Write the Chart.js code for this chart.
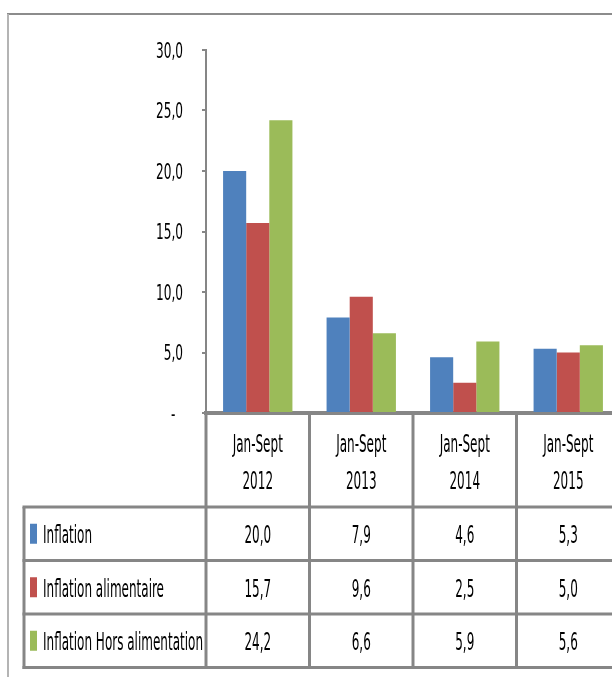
<!DOCTYPE html>
<html>
<head>
<meta charset="utf-8">
<script src="https://cdn.jsdelivr.net/npm/chart.js@4"></script>
<style>
  html, body { margin: 0; padding: 0; background: #fff; }
  #wrap { width: 612px; height: 677px; overflow: hidden; position: relative; }
  #chart { position: absolute; left: 0; top: 0; }
</style>
</head>
<body>
<div id="wrap"><canvas id="chart" width="640" height="677"></canvas></div>
<script>
const categories = [['Jan-Sept', '2012'], ['Jan-Sept', '2013'], ['Jan-Sept', '2014'], ['Jan-Sept', '2015']];
const seriesLabels = ['Inflation', 'Inflation alimentaire', 'Inflation Hors alimentation'];
const inflation = [20.0, 7.9, 4.6, 5.3];
const inflationAlimentaire = [15.7, 9.6, 2.5, 5.0];
const inflationHors = [24.2, 6.6, 5.9, 5.6];
const seriesColors = ['#4F81BD', '#C0504D', '#9BBB59'];
const yMax = 30;
const yStep = 5;

const FONT = '"DejaVu Sans Condensed", "DejaVu Sans", sans-serif';
const GRAY = '#868686';

// one decimal with a comma, like the excel source
function fmt(v) {
    return v.toFixed(1).replace('.', ',');
}

// the original text is very narrow: squeeze it horizontally so a sample string gets a given width
function squeezeFor(ctx, size, sample, targetW) {
    ctx.save();
    ctx.font = size + 'px ' + FONT;
    const w = ctx.measureText(sample).width;
    ctx.restore();
    return targetW / w;
}

function squeezed(ctx, text, x, y, size, align, sx) {
    ctx.save();
    ctx.font = size + 'px ' + FONT;
    ctx.textAlign = align;
    ctx.textBaseline = 'alphabetic';
    ctx.translate(x, y);
    ctx.scale(sx, 1);
    ctx.fillText(text, 0, 0);
    ctx.restore();
}

function line(ctx, x1, y1, x2, y2) {
    ctx.beginPath();
    ctx.moveTo(x1, y1);
    ctx.lineTo(x2, y2);
    ctx.stroke();
}

// frame, y tick labels and the data table under the plot
const tablePlugin = {
    id: 'dataTable',
    afterDraw(chart) {
        const ctx = chart.ctx;
        const area = chart.chartArea;
        const x = chart.scales.x;
        const y = chart.scales.y;
        const sets = chart.data.datasets;
        const n = chart.data.labels.length;
        const colW = (x.right - x.left) / n;
        const headTop = area.bottom;
        const rowTop = headTop + 94;
        const rowH = 53.5;
        const tableLeft = 24;
        const tableBottom = rowTop + rowH * sets.length;
        const size = 24;
        const sx = squeezeFor(ctx, size, 'Inflation Hors alimentation', 160);

        ctx.save();
        // outer frame
        ctx.lineWidth = 2;
        ctx.strokeStyle = '#8c8c8c';
        line(ctx, 7, 14, 640, 14);
        ctx.strokeStyle = '#b4b4b4';
        line(ctx, 8, 14, 8, 677);

        // y tick labels
        ctx.fillStyle = '#000';
        const tsize = 21;
        const tsx = squeezeFor(ctx, tsize, '30,0', 27);
        y.ticks.forEach(t => {
            const py = y.getPixelForValue(t.value);
            const txt = t.value === 0 ? '-\u2007' : fmt(t.value);
            squeezed(ctx, txt, y.right - 23, py + 7.5, tsize, 'right', tsx);
        });

        // table grid
        ctx.strokeStyle = GRAY;
        ctx.lineWidth = 3;
        for (let i = 1; i <= n; i++) {
            const px = x.left + i * colW;
            line(ctx, px, headTop, px, tableBottom);
        }
        line(ctx, x.left, headTop, x.left, tableBottom);
        line(ctx, tableLeft, rowTop, tableLeft, tableBottom + 1.5);
        for (let r = 0; r <= sets.length; r++) {
            const py = rowTop + r * rowH;
            line(ctx, tableLeft - 1.5, py, x.right, py);
        }

        // header cells
        chart.data.labels.forEach((lab, i) => {
            const cx = x.getPixelForValue(i);
            squeezed(ctx, lab[0], cx, headTop + 39, size, 'center', sx);
            squeezed(ctx, lab[1], cx, headTop + 76, size, 'center', sx);
        });

        // series rows
        sets.forEach((ds, r) => {
            const cy = rowTop + r * rowH + rowH / 2;
            ctx.fillStyle = ds.backgroundColor;
            ctx.fillRect(tableLeft + 6, cy - 10, 7, 20);
            ctx.fillStyle = '#000';
            squeezed(ctx, ds.label, tableLeft + 19, cy + 9.5, size, 'left', sx);
            ds.data.forEach((v, i) => {
                squeezed(ctx, fmt(v), x.getPixelForValue(i), cy + 9.5, size, 'center', sx);
            });
        });
        ctx.restore();
    }
};

const ctx = document.getElementById('chart').getContext('2d');

new Chart(ctx, {
    type: 'bar',
    data: {
        labels: categories,
        datasets: [
            { label: seriesLabels[0], data: inflation, backgroundColor: seriesColors[0] },
            { label: seriesLabels[1], data: inflationAlimentaire, backgroundColor: seriesColors[1] },
            { label: seriesLabels[2], data: inflationHors, backgroundColor: seriesColors[2] }
        ]
    },
    options: {
        responsive: false,
        animation: false,
        devicePixelRatio: 1,
        layout: { padding: { top: 50, right: 20, bottom: 264, left: 0 } },
        datasets: {
            bar: { barPercentage: 1, categoryPercentage: 0.67 }
        },
        plugins: {
            legend: { display: false },
            tooltip: { enabled: false }
        },
        scales: {
            x: {
                z: 1,
                ticks: { display: false },
                grid: { display: false },
                border: { display: true, color: GRAY, width: 4 },
                afterFit(scale) { scale.height = 0; }
            },
            y: {
                min: 0,
                max: yMax,
                ticks: { stepSize: yStep, display: false },
                grid: {
                    drawOnChartArea: false,
                    drawTicks: true,
                    tickLength: 4,
                    tickColor: GRAY,
                    lineWidth: 2
                },
                border: { display: true, color: GRAY, width: 2 },
                afterFit(scale) { scale.width = 206; }
            }
        }
    },
    plugins: [tablePlugin]
});
</script>
</body>
</html>
